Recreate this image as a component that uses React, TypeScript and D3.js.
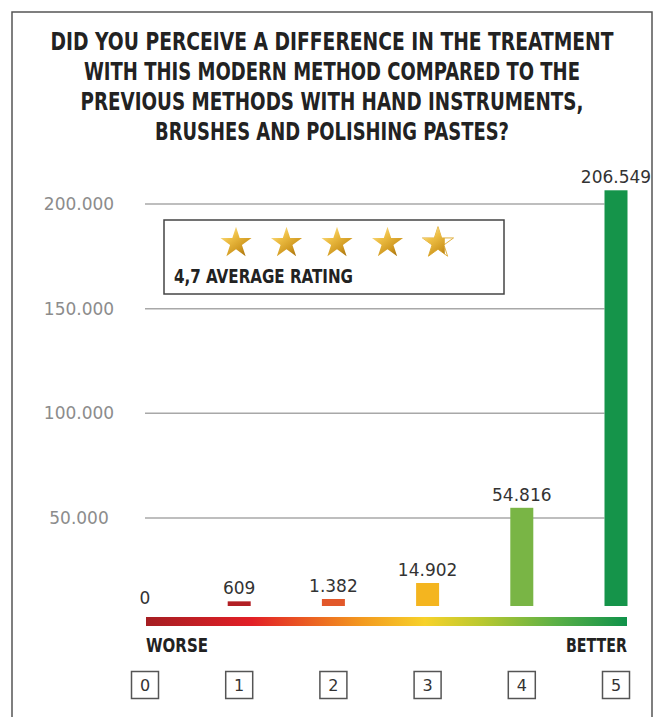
import * as d3 from 'd3';

const categories = ['0', '1', '2', '3', '4', '5'];
const responses = [0, 609, 1382, 14902, 54816, 206549];
const barColors = ['#b21f24', '#b21f24', '#e2582a', '#f4b51f', '#79b545', '#15944a'];
const yTicks = [50000, 100000, 150000, 200000];
const titleLines = [
  'DID YOU PERCEIVE A DIFFERENCE IN THE TREATMENT',
  'WITH THIS MODERN METHOD COMPARED TO THE',
  'PREVIOUS METHODS WITH HAND INSTRUMENTS,',
  'BRUSHES AND POLISHING PASTES?',
];
const averageRating = 4.7;
const ratingStars = [1, 2, 3, 4, 5];
const ratingLabel = '4,7 AVERAGE RATING';
const scaleEnds = ['WORSE', 'BETTER'];
const scaleStops = [
  { offset: 0, color: '#a51e22' },
  { offset: 0.22, color: '#e21f26' },
  { offset: 0.45, color: '#f39a1f' },
  { offset: 0.58, color: '#f7d22a' },
  { offset: 0.7, color: '#b8c830' },
  { offset: 0.85, color: '#5cb046' },
  { offset: 1, color: '#0f924a' },
];

const W = 657;
const H = 717;
const BAR_BASE = 606;
const BAR_W = 23;
// title line widths in the original layout
const TITLE_W = [563, 496, 503, 354];
const CONDENSED = "'DejaVu Sans Condensed', 'Liberation Sans Narrow', sans-serif";
const SQUARE = "'DejaVu Sans', Roboto, sans-serif";

const fmt = d3
  .formatLocale({ decimal: ',', thousands: '.', grouping: [3], currency: ['', ''] })
  .format(',d');

export default function App() {
  const x = d3.scalePoint<string>().domain(categories).range([145, 616]);
  const y = d3.scaleLinear().domain([0, 200000]).range([622.5, 204]);
  // small values get a visible stub
  const stub = d3.scaleSqrt().domain([0, 1382]).range([0, 7]);
  const starX = d3.scalePoint<number>().domain(ratingStars).range([236, 438]);
  const star = d3.symbol(d3.symbolStar, 300)() ?? '';
  const gridEnd = (x('5') ?? 0) - BAR_W / 2;

  return (
    <svg width={W} height={H} style={{ position: 'absolute', left: 0, top: 0, background: '#fff' }}>
      <defs>
        <linearGradient id="scale" x1="0" x2="1" y1="0" y2="0">
          {scaleStops.map((s) => (
            <stop key={s.offset} offset={s.offset} stopColor={s.color} />
          ))}
        </linearGradient>
        <linearGradient id="gold" x1="0" y1="0" x2="0.8" y2="1">
          <stop offset="0" stopColor="#fff3b8" />
          <stop offset="0.4" stopColor="#eebf45" />
          <stop offset="0.75" stopColor="#d19a22" />
          <stop offset="1" stopColor="#a8720c" />
        </linearGradient>
        <clipPath id="partial">
          <rect x={-17} y={-17} width={34 * (averageRating - Math.floor(averageRating))} height={34} />
        </clipPath>
      </defs>

      {/* frame */}
      <path d={`M12,${H} V12 H652 V${H}`} fill="none" stroke="#555" strokeWidth={1.5} />

      {/* title */}
      {titleLines.map((t, i) => (
        <text
          key={t}
          x={332}
          y={50 + i * 30}
          textAnchor="middle"
          fontFamily={CONDENSED}
          fontWeight={700}
          fontSize={24}
          fill="#222"
          textLength={TITLE_W[i]}
          lengthAdjust="spacingAndGlyphs"
        >
          {t}
        </text>
      ))}

      {/* grid + y labels */}
      {yTicks.map((t) => (
        <g key={t}>
          <line x1={145} x2={gridEnd} y1={y(t)} y2={y(t)} stroke="#a8a8a8" strokeWidth={1.5} />
          <text
            x={79}
            y={y(t)}
            dy="0.36em"
            textAnchor="middle"
            fontFamily={SQUARE}
            fontSize={17}
            fill="#8c8c8c"
          >
            {fmt(t)}
          </text>
        </g>
      ))}

      {/* rating box */}
      <rect x={164} y={220} width={340} height={74} fill="#fff" stroke="#444" strokeWidth={1.5} />
      {ratingStars.map((s) => {
        const full = s <= Math.floor(averageRating);
        return (
          <g key={s} transform={`translate(${starX(s)},243)`}>
            {full ? (
              <path d={star} fill="url(#gold)" />
            ) : (
              <>
                <path d={star} fill="#fff" stroke="#e0b040" strokeWidth={1} />
                <path d={star} fill="url(#gold)" clipPath="url(#partial)" />
              </>
            )}
          </g>
        );
      })}
      <text
        x={174}
        y={283}
        fontFamily={CONDENSED}
        fontWeight={700}
        fontSize={19}
        fill="#222"
        textLength={179}
        lengthAdjust="spacingAndGlyphs"
      >
        {ratingLabel}
      </text>

      {/* bars */}
      {responses.map((v, i) => {
        const h = Math.max(BAR_BASE - y(v), stub(v));
        const cx = x(categories[i]) ?? 0;
        return (
          <g key={categories[i]}>
            {v > 0 && (
              <rect x={cx - BAR_W / 2} y={BAR_BASE - h} width={BAR_W} height={h} fill={barColors[i]} />
            )}
            <text
              x={cx}
              y={v > 0 ? BAR_BASE - h - 7 : BAR_BASE - 2}
              textAnchor="middle"
              fontFamily={SQUARE}
              fontSize={17}
              fill="#333"
            >
              {fmt(v)}
            </text>
          </g>
        );
      })}

      {/* worse → better scale */}
      <rect x={146} y={617} width={481} height={9} fill="url(#scale)" />
      <text
        x={146}
        y={652}
        fontFamily={CONDENSED}
        fontWeight={700}
        fontSize={20}
        fill="#222"
        textLength={62}
        lengthAdjust="spacingAndGlyphs"
      >
        {scaleEnds[0]}
      </text>
      <text
        x={566}
        y={652}
        fontFamily={CONDENSED}
        fontWeight={700}
        fontSize={20}
        fill="#222"
        textLength={61}
        lengthAdjust="spacingAndGlyphs"
      >
        {scaleEnds[1]}
      </text>

      {/* category boxes */}
      {categories.map((c) => (
        <g key={c} transform={`translate(${x(c)},685)`}>
          <rect x={-13.5} y={-13.5} width={27} height={27} fill="#fff" stroke="#555" strokeWidth={1.5} />
          <text textAnchor="middle" dy="0.36em" fontFamily={SQUARE} fontSize={16} fill="#333">
            {c}
          </text>
        </g>
      ))}
    </svg>
  );
}
